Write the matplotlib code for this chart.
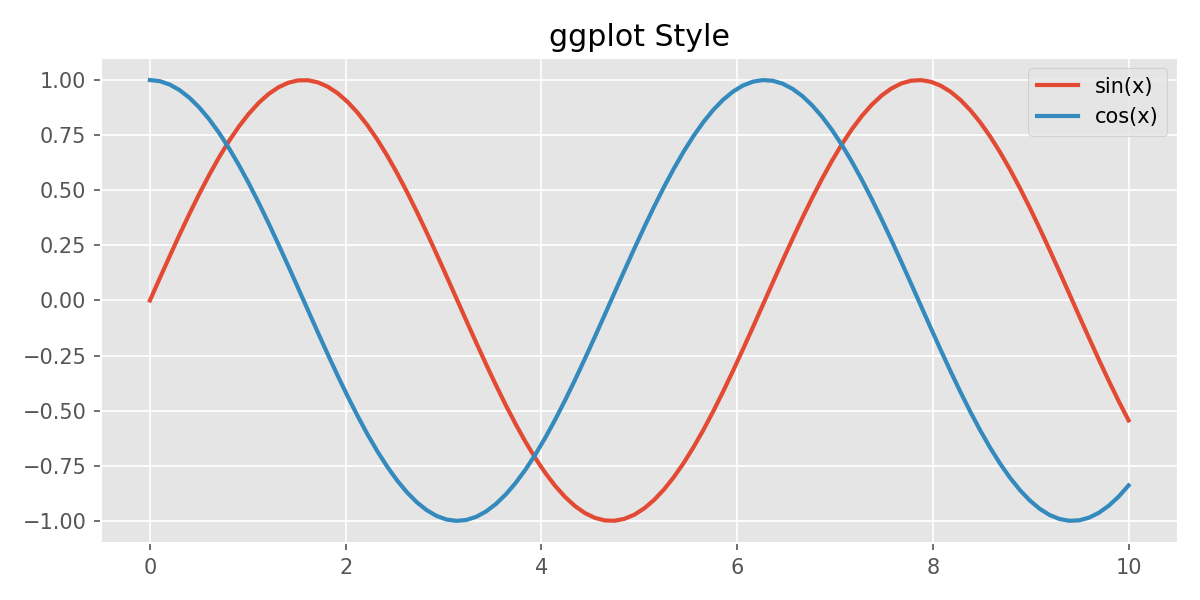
import numpy as np
import matplotlib
matplotlib.use("Agg")
import matplotlib.pyplot as plt

plt.style.use("ggplot")

# sample points, the curves are sin(x) and cos(x) as the legend says
x = np.linspace(0, 10, 100)
y_sin = np.sin(x)
y_cos = np.cos(x)

fig, ax = plt.subplots(figsize=(8, 4), dpi=150)
ax.plot(x, y_sin, label="sin(x)", linewidth=2)
ax.plot(x, y_cos, label="cos(x)", linewidth=2)
ax.set_title("ggplot Style")
ax.legend(loc="upper right")
fig.tight_layout()
fig.savefig("out.png")
